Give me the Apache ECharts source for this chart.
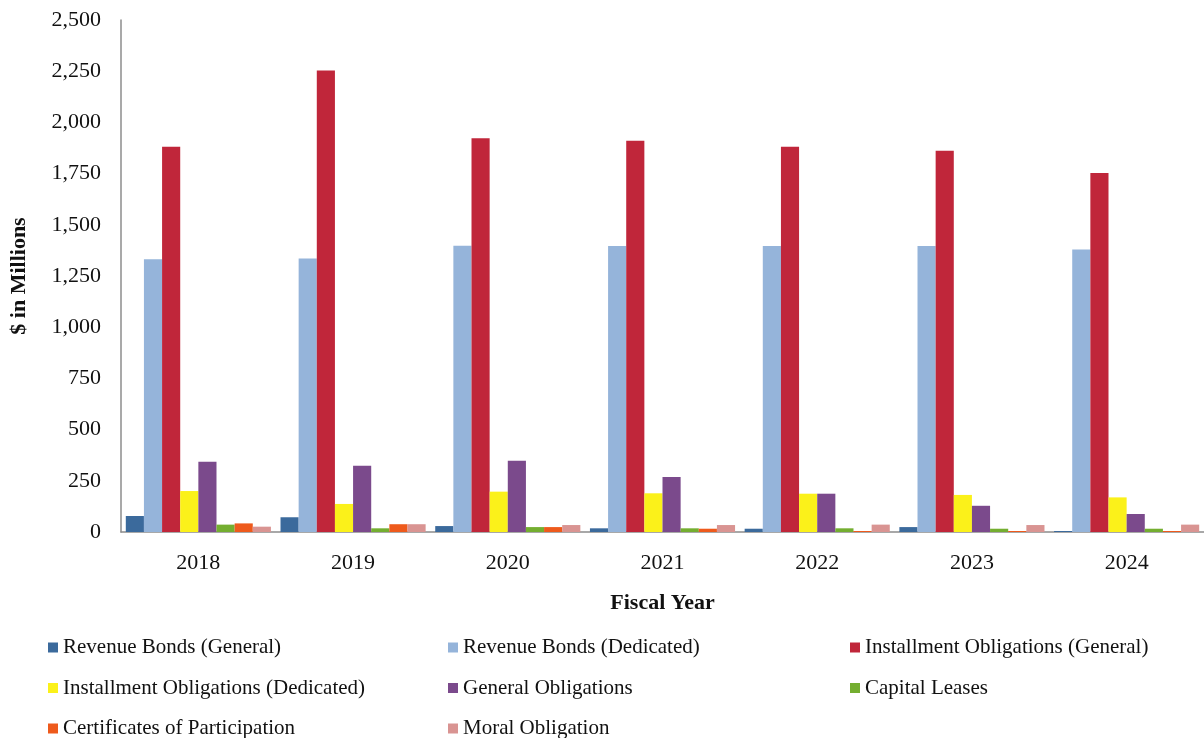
<!DOCTYPE html>
<html>
<head>
<meta charset="utf-8">
<script src="https://cdn.jsdelivr.net/npm/echarts@6/dist/echarts.min.js"></script>
<style>html,body{margin:0;padding:0;background:#fff;}#c{width:1204px;height:738px;}</style>
</head>
<body>
<div id="c"></div>
<script>
var years = ['2018', '2019', '2020', '2021', '2022', '2023', '2024'];
var yTicks = [0, 250, 500, 750, 1000, 1250, 1500, 1750, 2000, 2250, 2500];
var revenueBondsGeneral = [78, 72, 29, 18, 16, 24, 5];
var revenueBondsDedicated = [1332, 1336, 1398, 1396, 1396, 1396, 1380];
var installmentGeneral = [1881, 2254, 1922, 1911, 1881, 1862, 1753];
var installmentDedicated = [200, 137, 197, 189, 187, 181, 169];
var generalObligations = [343, 324, 348, 269, 187, 128, 88];
var capitalLeases = [36, 18, 24, 18, 18, 16, 16];
var certificates = [42, 38, 24, 16, 5, 5, 5];
var moralObligation = [26, 38, 34, 34, 36, 34, 36];

var seriesNames = ['Revenue Bonds (General)', 'Revenue Bonds (Dedicated)', 'Installment Obligations (General)',
  'Installment Obligations (Dedicated)', 'General Obligations', 'Capital Leases',
  'Certificates of Participation', 'Moral Obligation'];
var seriesData = [revenueBondsGeneral, revenueBondsDedicated, installmentGeneral, installmentDedicated,
  generalObligations, capitalLeases, certificates, moralObligation];
var colors = ['#3b6a9c', '#95b4da', '#c0263a', '#fbf11a', '#7b4a8c', '#74ae30', '#ee5a1c', '#d99492'];

var font = '"Liberation Serif", "Times New Roman", serif';
var chart = echarts.init(document.getElementById('c'));
function legendCol(left, names) {
  return {
    orient: 'vertical', itemWidth: 10, itemHeight: 10, itemGap: 19.5, icon: 'rect',
    textStyle: { fontFamily: font, fontSize: 21, color: '#111', lineHeight: 21 },
    top: 637, left: left, width: 380, height: 140, padding: 0, data: names
  };
}
chart.setOption({
  animation: false,
  color: colors,
  textStyle: { fontFamily: font },
  grid: { left: 120, right: -11, top: 20, bottom: 206, containLabel: false },
  legend: [
    legendCol(48, [seriesNames[0], seriesNames[3], seriesNames[6]]),
    legendCol(448, [seriesNames[1], seriesNames[4], seriesNames[7]]),
    legendCol(850, [seriesNames[2], seriesNames[5]])
  ],
  xAxis: {
    type: 'category', data: years,
    name: 'Fiscal Year', nameLocation: 'middle', nameGap: 60,
    nameTextStyle: { fontFamily: font, fontSize: 22, fontWeight: 'bold', color: '#111' },
    axisLine: { lineStyle: { color: '#8c8c8c', width: 1.5 } },
    axisTick: { show: false },
    axisLabel: { fontFamily: font, fontSize: 22, color: '#111', margin: 20 }
  },
  yAxis: {
    type: 'value', min: 0, max: 2500, interval: 250,
    name: '$ in Millions', nameLocation: 'middle', nameGap: 91,
    nameTextStyle: { fontFamily: font, fontSize: 22, fontWeight: 'bold', color: '#111' },
    axisLine: { show: true, lineStyle: { color: '#8c8c8c', width: 1.5 } },
    axisTick: { show: false },
    splitLine: { show: false },
    axisLabel: {
      fontFamily: font, fontSize: 22, color: '#111', margin: 20,
      formatter: function (v) { return yTicks.indexOf(v) >= 0 ? v.toLocaleString('en-US') : ''; }
    }
  },
  series: seriesNames.map(function (n, i) {
    return {
      name: n, type: 'bar', data: seriesData[i],
      barGap: '0%', barCategoryGap: '6.2%'
    };
  })
});
</script>
</body>
</html>
